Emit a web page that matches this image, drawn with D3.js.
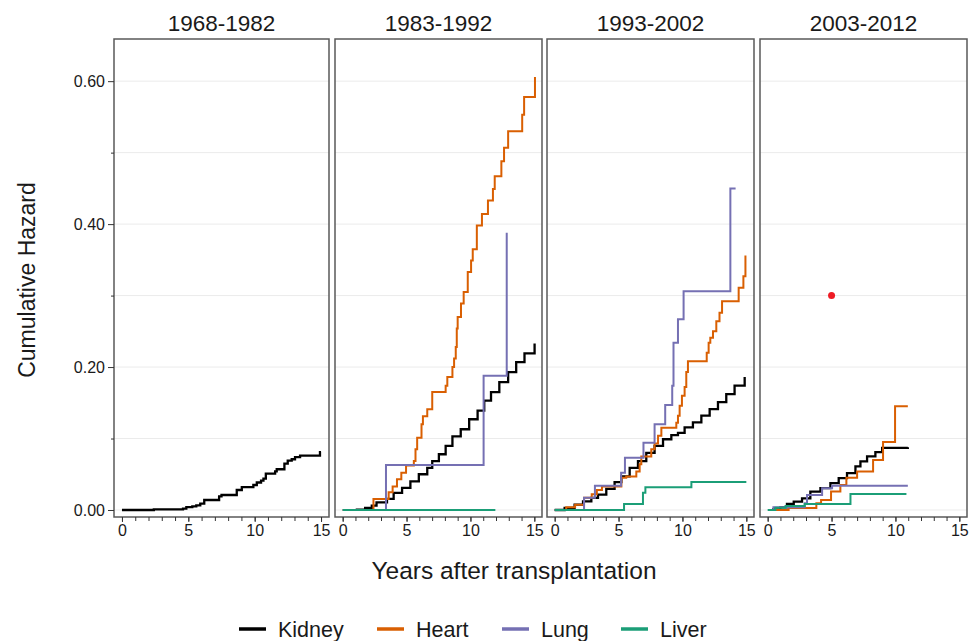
<!DOCTYPE html>
<html>
<head>
<meta charset="utf-8">
<script src="https://cdn.jsdelivr.net/npm/d3@7"></script>
<style>
body { margin: 0; background: #fff; }
svg text { font-family: "Liberation Sans", Arial, sans-serif; }
</style>
</head>
<body>
<main></main>
<script>
var width = 970;
var height = 641;

// categories
var periods = ["1968-1982", "1983-1992", "1993-2002", "2003-2012"];
var organs = ["Kidney", "Heart", "Lung", "Liver"];
var colors = ["#000000", "#d95f02", "#7570b3", "#1b9e77"];

// tick labels
var yTicks = [0, 0.2, 0.4, 0.6];
var yMinor = [0.1, 0.3, 0.5];
var xTicks = [0, 5, 10, 15];
var xMinor = [0, 1, 2, 3, 4, 5, 6, 7, 8, 9, 10, 11, 12, 13, 14, 15];

// cumulative hazard, [years, hazard]
var kidney1 = [[0, 0], [2.4, 0.001], [4.6, 0.002], [4.85, 0.004], [5.3, 0.005], [5.6, 0.0066], [5.9, 0.009],
  [6.2, 0.014], [7.32, 0.019], [7.5, 0.021], [8.65, 0.028], [9.03, 0.032], [9.9, 0.035], [10.16, 0.0385],
  [10.48, 0.041], [10.66, 0.044], [10.84, 0.051], [11.54, 0.054], [11.66, 0.057], [12.24, 0.065],
  [12.49, 0.069], [12.79, 0.071], [13.04, 0.074], [13.42, 0.076], [14.92, 0.081], [15.0, 0.081]];

var kidney2 = [[1.02, 0.0005], [1.76, 0.0028], [2.28, 0.0061], [2.65, 0.0108], [3.47, 0.0155], [3.99, 0.024],
  [4.65, 0.031], [5.3, 0.04], [5.96, 0.05], [6.62, 0.059], [7.01, 0.0685], [7.53, 0.078], [8.06, 0.0897],
  [8.59, 0.103], [9.24, 0.113], [9.9, 0.127], [10.56, 0.139], [11.08, 0.153], [11.61, 0.165], [12.26, 0.179],
  [12.95, 0.193], [13.58, 0.207], [14.23, 0.219], [15.02, 0.233]];
var heart2 = [[0, 0], [2.41, 0.0155], [3.6, 0.025], [3.91, 0.033], [4.25, 0.043], [4.59, 0.052], [4.96, 0.0624],
  [5.57, 0.0685], [5.7, 0.085], [5.83, 0.101], [6.17, 0.12], [6.28, 0.131], [6.62, 0.141], [7.01, 0.165],
  [8.06, 0.174], [8.19, 0.186], [8.59, 0.2], [8.72, 0.212], [8.85, 0.228], [8.93, 0.254], [9.0, 0.27],
  [9.26, 0.289], [9.47, 0.305], [9.79, 0.333], [10.05, 0.349], [10.18, 0.365], [10.5, 0.398], [10.9, 0.414],
  [11.37, 0.433], [11.76, 0.449], [11.9, 0.467], [12.42, 0.488], [12.63, 0.507], [12.95, 0.53],
  [14.05, 0.553], [14.2, 0.578], [15.05, 0.606]];
var lung2 = [[0, 0], [3.39, 0.063], [11.03, 0.188], [12.84, 0.388]];
var liver2 = [[0, 0], [11.95, 0]];

var kidney3 = [[0, 0], [0.78, 0.0028], [1.56, 0.0075], [2.22, 0.0122], [2.87, 0.0169], [3.39, 0.0216],
  [4.04, 0.0296], [4.69, 0.039], [5.22, 0.047], [5.87, 0.059], [6.52, 0.0685], [7.17, 0.08], [7.82, 0.0897],
  [8.48, 0.099], [9.13, 0.1047], [9.65, 0.108], [10.17, 0.1155], [10.82, 0.1225], [11.48, 0.132],
  [12.13, 0.141], [12.78, 0.151], [13.43, 0.162], [14.08, 0.174], [14.87, 0.186]];
var heart3 = [[0, 0], [0.9, 0.004], [1.6, 0.0075], [2.3, 0.017], [2.9, 0.022], [3.3, 0.028], [3.7, 0.033],
  [5.22, 0.045], [5.6, 0.047], [6.39, 0.054], [6.65, 0.064], [6.78, 0.075], [7.56, 0.085], [7.82, 0.093],
  [8.09, 0.104], [8.35, 0.115], [9.52, 0.122], [9.65, 0.132], [9.78, 0.146], [9.96, 0.16], [10.17, 0.172],
  [10.3, 0.193], [10.43, 0.208], [11.9, 0.22], [12.05, 0.234], [12.18, 0.241], [12.39, 0.25], [12.65, 0.264],
  [12.9, 0.276], [13.1, 0.292], [14.4, 0.311], [14.77, 0.327], [14.93, 0.356]];
var lung3 = [[0, 0], [2.3, 0.017], [3.15, 0.034], [5.2, 0.052], [5.5, 0.073], [6.95, 0.094], [7.82, 0.12],
  [8.65, 0.147], [9.2, 0.174], [9.3, 0.234], [9.65, 0.267], [10.09, 0.306], [13.75, 0.45], [14.16, 0.45]];
var liver3 = [[0, 0], [5.43, 0.0085], [6.91, 0.024], [7.1, 0.032], [10.7, 0.039], [15.0, 0.039]];

var kidney4 = [[0.34, 0.001], [0.99, 0.0038], [1.51, 0.0085], [2.04, 0.0117], [2.69, 0.0164], [3.34, 0.0258],
  [4.13, 0.0305], [4.91, 0.0376], [5.56, 0.0446], [6.21, 0.0516], [6.87, 0.061], [7.26, 0.068], [7.78, 0.075],
  [8.43, 0.081], [8.96, 0.0869], [10.97, 0.0878]];
var heart4 = [[0.34, 0], [1.64, 0.0028], [3.81, 0.0096], [4.18, 0.014], [4.96, 0.026], [5.69, 0.035],
  [6.16, 0.045], [7.0, 0.054], [8.25, 0.07], [9.03, 0.095], [9.97, 0.145], [10.97, 0.145]];
var lung4 = [[0.3, 0], [0.45, 0.004], [2.9, 0.0094], [3.08, 0.021], [4.26, 0.0305], [5.04, 0.034], [10.97, 0.034]];
var liver4 = [[0, 0], [0.6, 0.003], [1.4, 0.0056], [2.9, 0.0085], [6.48, 0.0225], [10.86, 0.0225]];

// stray point in the last panel
var marker4 = [5, 0.3];

var curves = [
  [[kidney1, 0]],
  [[kidney2, 0], [heart2, 1], [lung2, 2], [liver2, 3]],
  [[kidney3, 0], [heart3, 1], [lung3, 2], [liver3, 3]],
  [[kidney4, 0], [heart4, 1], [lung4, 2], [liver4, 3]]
];

var panelLeft = [114, 335, 547, 760];
var panelRight = [329, 542, 754, 967];
var top_ = 39, bottom = 517;

var svg = d3.select("main").append("svg")
    .attr("width", width)
    .attr("height", height);

var y = d3.scaleLinear().domain([-0.0098, 0.659]).range([bottom, top_]);

periods.forEach(function(p, i) {
  var x = d3.scaleLinear().domain([-0.6, 15.6]).range([panelLeft[i], panelRight[i]]);
  var g = svg.append("g");

  g.selectAll(".grid")
      .data(yTicks.concat(yMinor))
    .enter().append("line")
      .attr("x1", panelLeft[i])
      .attr("x2", panelRight[i])
      .attr("y1", function(d) { return y(d); })
      .attr("y2", function(d) { return y(d); })
      .style("stroke", "#ebebeb")
      .style("stroke-width", 1);

  var line = d3.line()
      .curve(d3.curveStepAfter)
      .x(function(d) { return x(d[0]); })
      .y(function(d) { return y(d[1]); });

  curves[i].forEach(function(c) {
    g.append("path")
        .attr("d", line(c[0]))
        .style("fill", "none")
        .style("stroke", colors[c[1]])
        .style("stroke-width", c[1] == 0 ? 2.3 : 2);
  });

  if (i == 3) {
    g.append("circle")
        .attr("cx", x(marker4[0]))
        .attr("cy", y(marker4[1]))
        .attr("r", 3.5)
        .style("fill", "#ee1c25");
  }

  g.append("rect")
      .attr("x", panelLeft[i])
      .attr("y", top_)
      .attr("width", panelRight[i] - panelLeft[i])
      .attr("height", bottom - top_)
      .style("fill", "none")
      .style("stroke", "#595959")
      .style("stroke-width", 1.5);

  // x axis
  var minor = g.append("g")
      .attr("transform", "translate(0," + bottom + ")")
      .call(d3.axisBottom(x).tickValues(xMinor).tickSize(4).tickFormat(""));
  var major = g.append("g")
      .attr("transform", "translate(0," + bottom + ")")
      .call(d3.axisBottom(x).tickValues(xTicks).tickSize(5).tickPadding(3).tickFormat(d3.format("d")));
  [minor, major].forEach(function(a) {
    a.select(".domain").remove();
    a.selectAll("line").style("stroke", "#333").style("stroke-width", 1);
    a.selectAll("text").style("font-size", "16px").style("fill", "#1a1a1a");
  });

  g.append("text")
      .attr("x", (panelLeft[i] + panelRight[i]) / 2)
      .attr("y", 31)
      .attr("text-anchor", "middle")
      .style("font-size", "22.5px")
      .style("fill", "#1a1a1a")
      .text(p);
});

// y axis
var yMin = svg.append("g")
    .attr("transform", "translate(" + panelLeft[0] + ",0)")
    .call(d3.axisLeft(y).tickValues(yMinor).tickSize(3).tickFormat(""));
var yMaj = svg.append("g")
    .attr("transform", "translate(" + panelLeft[0] + ",0)")
    .call(d3.axisLeft(y).tickValues(yTicks).tickSize(6).tickPadding(3).tickFormat(d3.format(".2f")));
[yMin, yMaj].forEach(function(a) {
  a.select(".domain").remove();
  a.selectAll("line").style("stroke", "#333");
  a.selectAll("text").style("font-size", "16px").style("fill", "#1a1a1a");
});

svg.append("text")
    .attr("x", 514)
    .attr("y", 579)
    .attr("text-anchor", "middle")
    .style("font-size", "24.5px")
    .style("fill", "#1a1a1a")
    .text("Years after transplantation");

svg.append("text")
    .attr("transform", "translate(35,280) rotate(-90)")
    .attr("text-anchor", "middle")
    .style("font-size", "23px")
    .style("fill", "#1a1a1a")
    .text("Cumulative Hazard");

// legend
var legendX = [239, 377, 502, 621];
var legend = svg.selectAll(".key")
    .data(organs)
  .enter().append("g")
    .attr("transform", function(d, i) { return "translate(" + legendX[i] + ",629)"; });
legend.append("line")
    .attr("x1", 0)
    .attr("x2", 27)
    .style("stroke", function(d, i) { return colors[i]; })
    .style("stroke-width", 3.5);
legend.append("text")
    .attr("x", 39)
    .attr("y", 8)
    .style("font-size", "21.5px")
    .style("fill", "#1a1a1a")
    .text(function(d) { return d; });
</script>
</body>
</html>
